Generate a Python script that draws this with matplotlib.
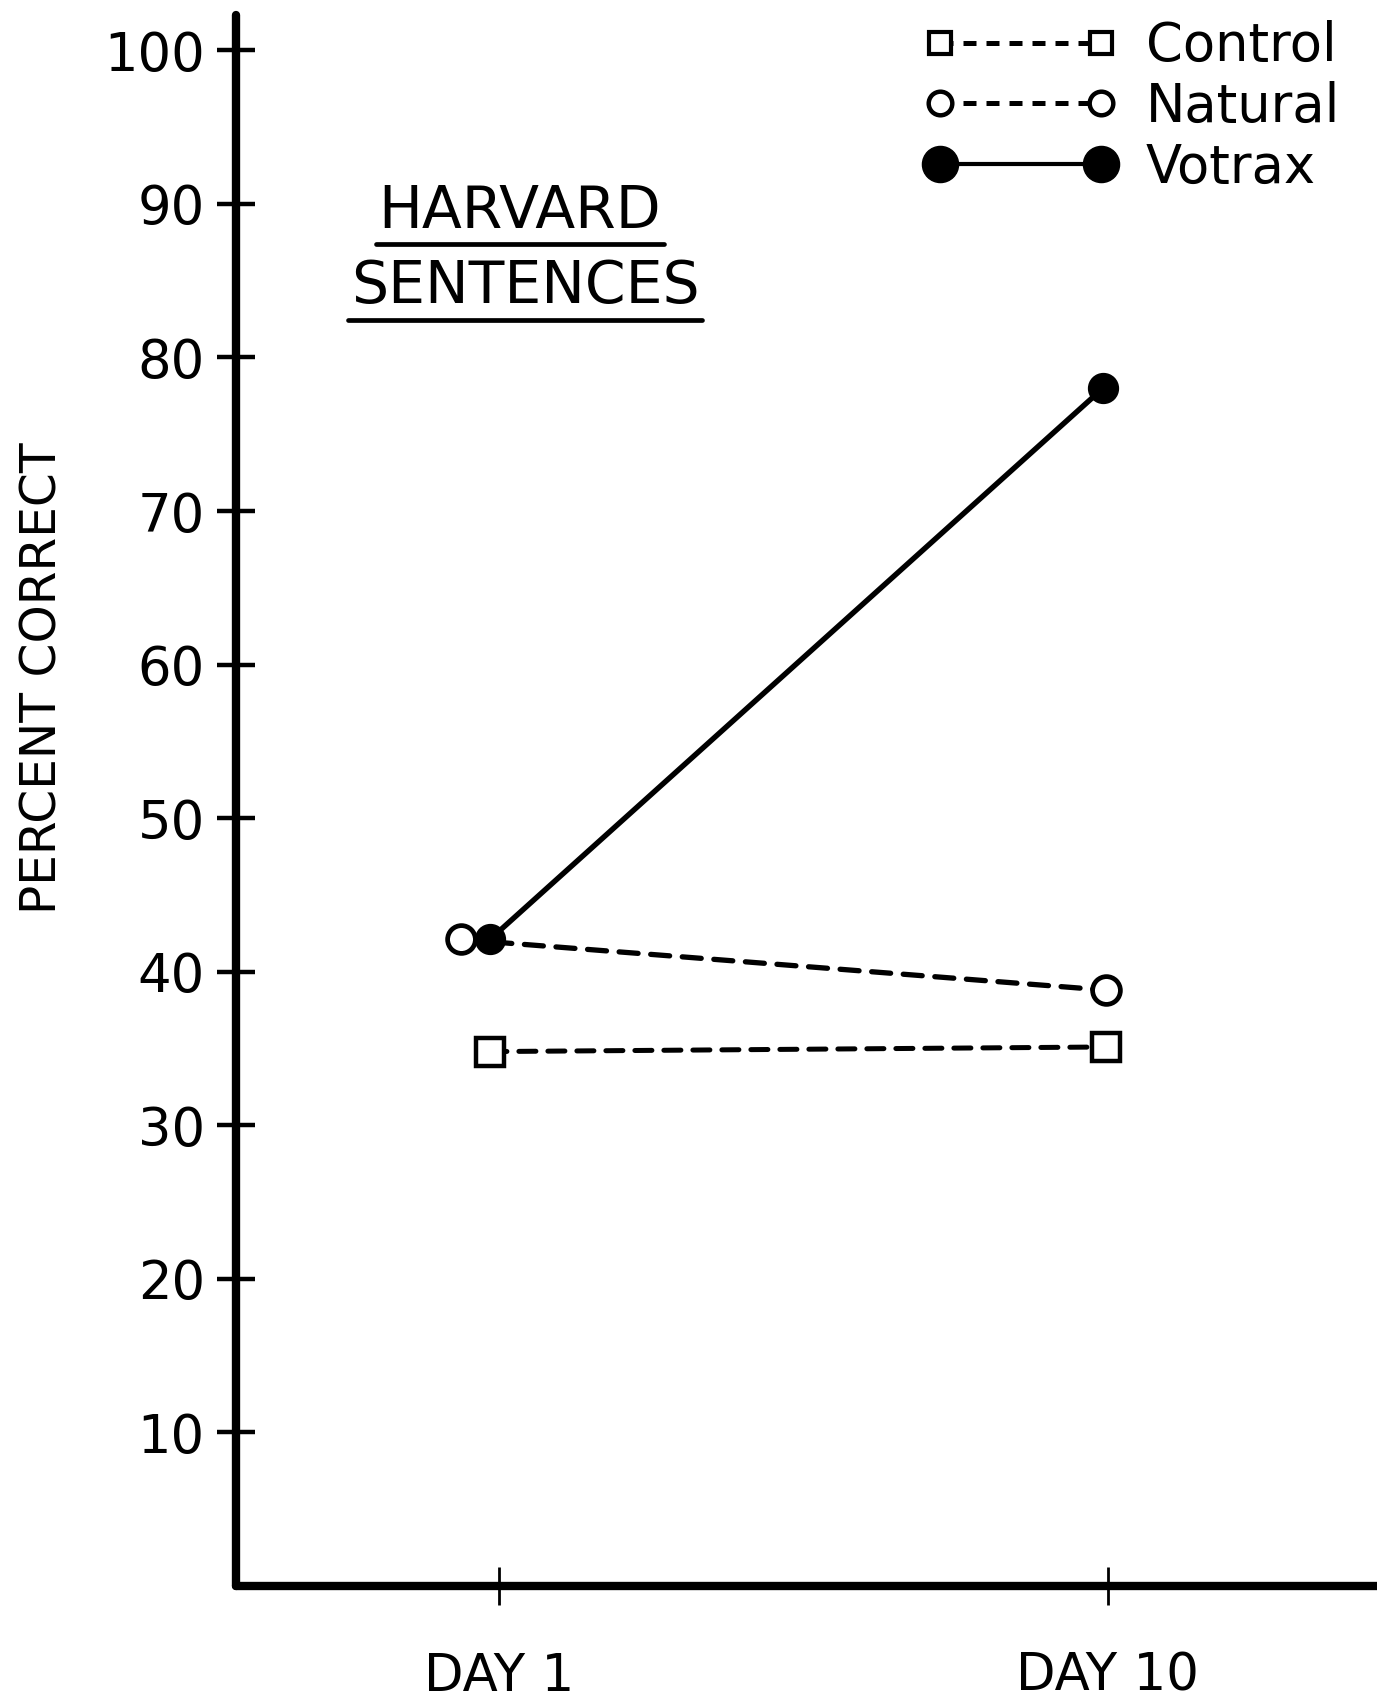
"""
Harvard sentences: percent correct, day 1 vs day 10
"""
import matplotlib
matplotlib.use('Agg')
import matplotlib.pyplot as plt
from matplotlib.lines import Line2D

# ─── data ────────────────────────────────────────────────
DAYS = ['DAY 1', 'DAY 10']
CONTROL = [34.8, 35.1]
NATURAL = [42.1, 38.8]
VOTRAX = [42.1, 78.0]
Y_TICKS = [10, 20, 30, 40, 50, 60, 70, 80, 90, 100]

# ─── styles ──────────────────────────────────────────────
STYLES = {
    'Control': dict(marker='s', ms=20, mfc='white', mec='black', mew=3.2,
                    ls=(0, (3.4, 2.4)), lw=3.6, dx=(-0.015, -0.003)),
    'Natural': dict(marker='o', ms=20, mfc='white', mec='black', mew=3.4,
                    ls=(0, (3.6, 2.4)), lw=3.8, dx=(-0.062, -0.003)),
    'Votrax':  dict(marker='o', ms=21.5, mfc='black', mec='black', mew=1,
                    ls='-', lw=3.9, dx=(-0.015, -0.008)),
}
FONT = 'DejaVu Sans'

W, H = 1377, 1700
fig = plt.figure(figsize=(W / 100, H / 100), dpi=100, facecolor='white')
ax = fig.add_axes([236 / W, 1 - 1586 / H, 1 - 236 / W, (1586 - 15) / H])

xs = range(len(DAYS))
for name, vals in [('Control', CONTROL), ('Natural', NATURAL), ('Votrax', VOTRAX)]:
    st = STYLES[name]
    px = [x + d for x, d in zip(xs, st['dx'])]
    ax.plot(px, vals, color='black', ls=st['ls'], lw=st['lw'],
            marker=st['marker'], ms=st['ms'], mfc=st['mfc'], mec=st['mec'],
            mew=st['mew'], zorder=4 if name == 'Votrax' else 3,
            solid_capstyle='round', dash_capstyle='round')

ax.set_xlim(-0.432, 1.442)
ax.set_ylim(0, 102.3)
ax.set_xticks(list(xs))
ax.set_xticklabels(DAYS)
ax.set_yticks(Y_TICKS)
ax.set_yticklabels([str(v) for v in Y_TICKS])

for s in ['top', 'right']:
    ax.spines[s].set_visible(False)
for s in ['left', 'bottom']:
    ax.spines[s].set_linewidth(6)
    ax.spines[s].set_capstyle('round')

ax.tick_params(axis='y', direction='inout', length=27, width=3.2, pad=9,
               labelsize=38, colors='black')
ax.tick_params(axis='x', direction='inout', length=27, width=2, pad=34,
               labelsize=37, colors='black')
for lab in ax.get_xticklabels() + ax.get_yticklabels():
    lab.set_family(FONT)

# y label
fig.text(43 / W, 1 - 678 / H, 'PERCENT CORRECT', rotation=90, ha='center',
         va='center', fontsize=35, family=FONT)

# title with underlines
t1 = fig.text(520 / W, 1 - 211 / H, 'HARVARD', ha='center', va='center',
              fontsize=42, family=FONT)
t2 = fig.text(525 / W, 1 - 287 / H, 'SENTENCES', ha='center', va='center',
              fontsize=42, family=FONT)
fig.canvas.draw()
rend = fig.canvas.get_renderer()
for t in (t1, t2):
    bb = t.get_window_extent(rend).transformed(fig.transFigure.inverted())
    yline = bb.y0 - 4 / H
    fig.add_artist(Line2D([bb.x0 - 3 / W, bb.x1 + 3 / W], [yline, yline],
                          transform=fig.transFigure, color='black', lw=3.4,
                          solid_capstyle='round'))

# legend
handles = [
    Line2D([], [], color='black', ls=(0, (2.6, 2.0)), lw=3.6, marker='s', ms=16,
           mfc='white', mec='black', mew=3),
    Line2D([], [], color='black', ls=(0, (2.6, 2.0)), lw=3.6, marker='o', ms=17,
           mfc='white', mec='black', mew=3.2),
    Line2D([], [], color='black', ls='-', lw=3, marker='o', ms=26,
           mfc='black', mec='black'),
]
fig.legend(handles, ['Control', 'Natural', 'Votrax'], loc='upper left',
           bbox_to_anchor=(924 / W, 1 - 20 / H), frameon=False,
           numpoints=2, handlelength=3.65, handletextpad=0.55,
           labelspacing=0.17, borderpad=0, borderaxespad=0,
           prop=dict(family=FONT, size=38))

fig.savefig('out.png', dpi=100, facecolor='white')
